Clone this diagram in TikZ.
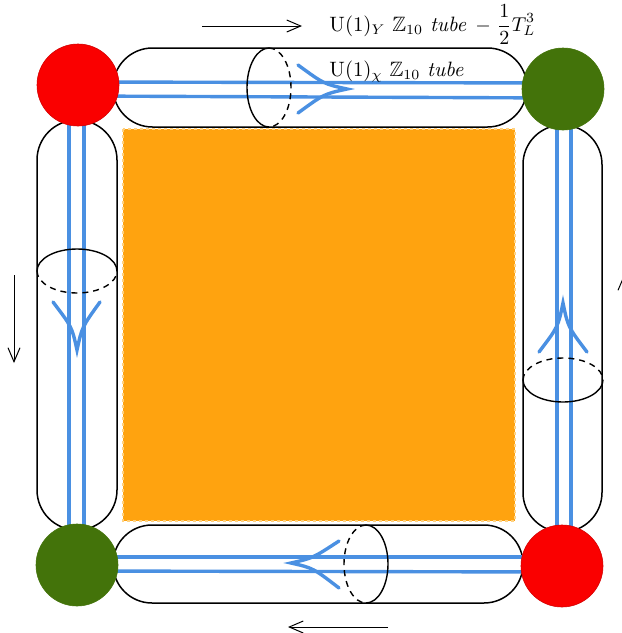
\documentclass[tikz,border=0pt]{standalone}
\usepackage{amssymb}
\usetikzlibrary{arrows.meta}
\definecolor{tubeblue}{RGB}{74,144,226}
\definecolor{redball}{RGB}{250,0,0}
\definecolor{greenball}{RGB}{67,115,10}
\definecolor{sqorange}{RGB}{255,163,15}
\definecolor{sqedge}{RGB}{255,210,130}
\tikzset{
  tube/.style={draw=black, line width=0.75pt, fill=white},
  blueline/.style={draw=tubeblue, line width=1.7pt},
  bluehead/.style={draw=tubeblue, line width=1.7pt, line cap=round},
  solidrim/.style={draw=black, line width=0.7pt},
  dashrim/.style={draw=black, line width=0.7pt, dash pattern=on 3pt off 2.5pt},
  ball/.style={circle, minimum size=41pt, inner sep=0pt},
  dirarrow/.style={draw=black, line width=0.5pt, -{Straight Barb[length=7pt,width=6pt]}},
  lbl/.style={anchor=base west, inner sep=0pt, font=\fontsize{10.4}{12}\selectfont}
}
\begin{document}
\begin{tikzpicture}[x=0.5pt, y=-0.5pt]
\useasboundingbox (0,0) rectangle (622,633);
% tubes
\draw[tube, rounded corners=19.75pt] (113,48) rectangle (527,127);
\draw[tube, rounded corners=20pt] (37,120) rectangle (117,530);
\draw[tube, rounded corners=19.75pt] (523,125) rectangle (602,532);
\draw[tube, rounded corners=19.5pt] (113,525) rectangle (523,603);
% orange square
\draw[draw=sqedge, line width=0.7pt, dash pattern=on 1.5pt off 1.5pt, fill=sqorange] (123,129) rectangle (515,521);
% circle positions
\coordinate (ptl) at (78,85);
\coordinate (ptr) at (563,89);
\coordinate (pbl) at (77,565);
\coordinate (pbr) at (562,566);
% blue flux lines
\draw[blueline] (78,82) -- (563,83);
\draw[blueline] (78,96) -- (563,98);
\draw[blueline] (69,85) -- (69,565);
\draw[blueline] (84,85) -- (84,565);
\draw[blueline] (557,89) -- (557,566);
\draw[blueline] (571,89) -- (571,566);
\draw[blueline] (77,557) -- (562,557);
\draw[blueline] (77,571) -- (562,572);
% rims
\draw[solidrim] (269,48) arc[start angle=90, end angle=270, x radius=11pt, y radius=19.75pt];
\draw[dashrim] (269,48) arc[start angle=90, end angle=-90, x radius=11pt, y radius=19.75pt];
\draw[solidrim] (37,271) arc[start angle=180, end angle=0, x radius=20pt, y radius=11pt];
\draw[dashrim] (37,271) arc[start angle=180, end angle=360, x radius=20pt, y radius=11pt];
\draw[dashrim] (523,380) arc[start angle=180, end angle=0, x radius=20pt, y radius=11pt];
\draw[solidrim] (523,380) arc[start angle=180, end angle=360, x radius=20pt, y radius=11pt];
\draw[dashrim] (366,525) arc[start angle=90, end angle=270, x radius=11pt, y radius=19.5pt];
\draw[solidrim] (366,525) arc[start angle=90, end angle=-90, x radius=11pt, y radius=19.5pt];
% blue heads
\draw[bluehead] (298,65) .. controls (324,84) .. (347,89) .. controls (324,94) .. (298,113);
\draw[bluehead] (53,302) .. controls (72,327) .. (77,350) .. controls (82,327) .. (100,302);
\draw[bluehead] (539,352) .. controls (558,327) .. (563,303) .. controls (568,327) .. (587,352);
\draw[bluehead] (339,541) .. controls (313,558) .. (291,563) .. controls (313,568) .. (339,588);
% balls
\node[ball, fill=redball, draw=redball!85!black, line width=0.3pt] (tl) at (ptl) {};
\node[ball, fill=greenball, draw=greenball, line width=0.3pt] (tr) at (ptr) {};
\node[ball, fill=greenball, draw=greenball, line width=0.3pt] (bl) at (pbl) {};
\node[ball, fill=redball, draw=redball!85!black, line width=0.3pt] (br) at (pbr) {};
% direction arrows
\coordinate (a1s) at (202,26); \coordinate (a1e) at (302,26);
\coordinate (a2s) at (14,275); \coordinate (a2e) at (14,363);
\coordinate (a3s) at (388,627); \coordinate (a3e) at (288,627);
\coordinate (a4s) at (624,363); \coordinate (a4e) at (624,275);
\draw[dirarrow] (a1s) -- (a1e);
\draw[dirarrow] (a2s) -- (a2e);
\draw[dirarrow] (a3s) -- (a3e);
\draw[dirarrow] (a4s) -- (a4e);
% labels
\node[lbl] (lY) at (329,31) {U(1)$_Y$ $\mathbb{Z}_{10}$ \textit{tube}\hspace{4.5pt}$-$\hspace{3pt}$\displaystyle\frac{1}{2}T^{3}_{L}$};
\node[lbl] (lX) at (329,76) {U(1)$_\chi$ $\mathbb{Z}_{10}$ \textit{tube}};
\end{tikzpicture}
\end{document}
